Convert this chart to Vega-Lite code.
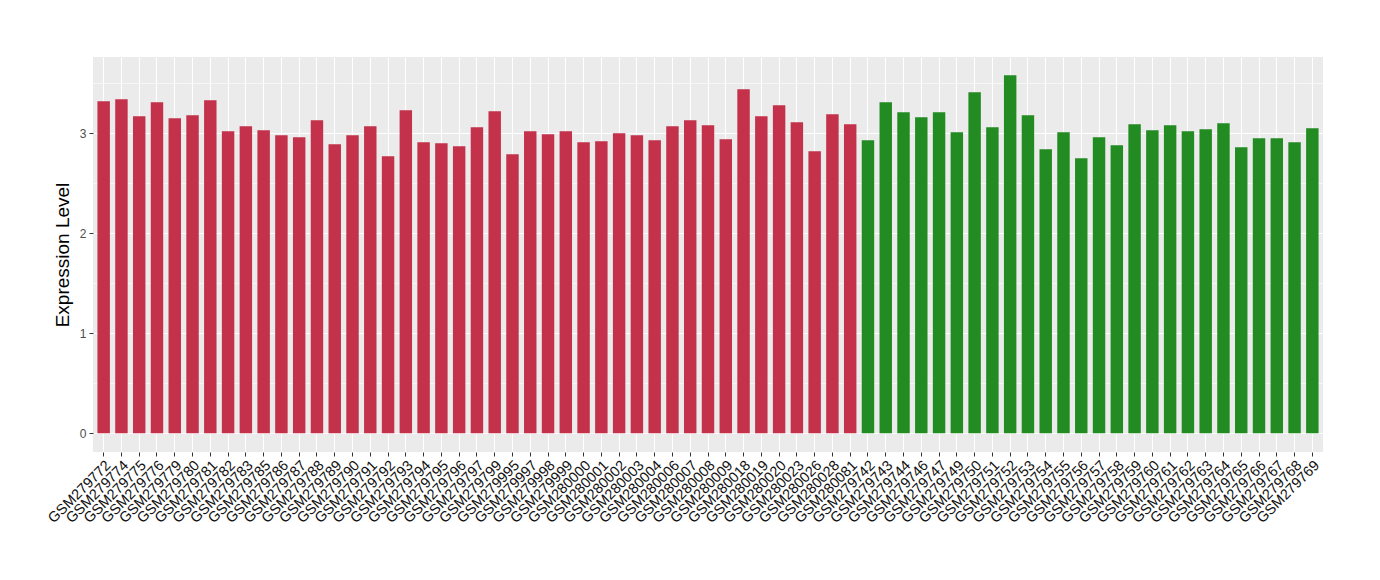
{
  "$schema": "https://vega.github.io/schema/vega-lite/v6.json",
  "autosize": {"type": "none"},
  "width": 1230,
  "height": 395,
  "padding": {"left": 93, "top": 57, "right": 57, "bottom": 128},
  "background": "white",
  "config": {
    "font": "Liberation Sans",
    "view": {"fill": "#EBEBEB", "stroke": null}
  },
  "data": {"values": [
    {"sample": "GSM279772", "group": "A", "value": 3.32},
    {"sample": "GSM279774", "group": "A", "value": 3.34},
    {"sample": "GSM279775", "group": "A", "value": 3.17},
    {"sample": "GSM279776", "group": "A", "value": 3.31},
    {"sample": "GSM279779", "group": "A", "value": 3.15},
    {"sample": "GSM279780", "group": "A", "value": 3.18},
    {"sample": "GSM279781", "group": "A", "value": 3.33},
    {"sample": "GSM279782", "group": "A", "value": 3.02},
    {"sample": "GSM279783", "group": "A", "value": 3.07},
    {"sample": "GSM279785", "group": "A", "value": 3.03},
    {"sample": "GSM279786", "group": "A", "value": 2.98},
    {"sample": "GSM279787", "group": "A", "value": 2.96},
    {"sample": "GSM279788", "group": "A", "value": 3.13},
    {"sample": "GSM279789", "group": "A", "value": 2.89},
    {"sample": "GSM279790", "group": "A", "value": 2.98},
    {"sample": "GSM279791", "group": "A", "value": 3.07},
    {"sample": "GSM279792", "group": "A", "value": 2.77},
    {"sample": "GSM279793", "group": "A", "value": 3.23},
    {"sample": "GSM279794", "group": "A", "value": 2.91},
    {"sample": "GSM279795", "group": "A", "value": 2.90},
    {"sample": "GSM279796", "group": "A", "value": 2.87},
    {"sample": "GSM279797", "group": "A", "value": 3.06},
    {"sample": "GSM279799", "group": "A", "value": 3.22},
    {"sample": "GSM279995", "group": "A", "value": 2.79},
    {"sample": "GSM279997", "group": "A", "value": 3.02},
    {"sample": "GSM279998", "group": "A", "value": 2.99},
    {"sample": "GSM279999", "group": "A", "value": 3.02},
    {"sample": "GSM280000", "group": "A", "value": 2.91},
    {"sample": "GSM280001", "group": "A", "value": 2.92},
    {"sample": "GSM280002", "group": "A", "value": 3.00},
    {"sample": "GSM280003", "group": "A", "value": 2.98},
    {"sample": "GSM280004", "group": "A", "value": 2.93},
    {"sample": "GSM280006", "group": "A", "value": 3.07},
    {"sample": "GSM280007", "group": "A", "value": 3.13},
    {"sample": "GSM280008", "group": "A", "value": 3.08},
    {"sample": "GSM280009", "group": "A", "value": 2.94},
    {"sample": "GSM280018", "group": "A", "value": 3.44},
    {"sample": "GSM280019", "group": "A", "value": 3.17},
    {"sample": "GSM280020", "group": "A", "value": 3.28},
    {"sample": "GSM280023", "group": "A", "value": 3.11},
    {"sample": "GSM280026", "group": "A", "value": 2.82},
    {"sample": "GSM280028", "group": "A", "value": 3.19},
    {"sample": "GSM280081", "group": "A", "value": 3.09},
    {"sample": "GSM279742", "group": "B", "value": 2.93},
    {"sample": "GSM279743", "group": "B", "value": 3.31},
    {"sample": "GSM279744", "group": "B", "value": 3.21},
    {"sample": "GSM279746", "group": "B", "value": 3.16},
    {"sample": "GSM279747", "group": "B", "value": 3.21},
    {"sample": "GSM279749", "group": "B", "value": 3.01},
    {"sample": "GSM279750", "group": "B", "value": 3.41},
    {"sample": "GSM279751", "group": "B", "value": 3.06},
    {"sample": "GSM279752", "group": "B", "value": 3.58},
    {"sample": "GSM279753", "group": "B", "value": 3.18},
    {"sample": "GSM279754", "group": "B", "value": 2.84},
    {"sample": "GSM279755", "group": "B", "value": 3.01},
    {"sample": "GSM279756", "group": "B", "value": 2.75},
    {"sample": "GSM279757", "group": "B", "value": 2.96},
    {"sample": "GSM279758", "group": "B", "value": 2.88},
    {"sample": "GSM279759", "group": "B", "value": 3.09},
    {"sample": "GSM279760", "group": "B", "value": 3.03},
    {"sample": "GSM279761", "group": "B", "value": 3.08},
    {"sample": "GSM279762", "group": "B", "value": 3.02},
    {"sample": "GSM279763", "group": "B", "value": 3.04},
    {"sample": "GSM279764", "group": "B", "value": 3.10},
    {"sample": "GSM279765", "group": "B", "value": 2.86},
    {"sample": "GSM279766", "group": "B", "value": 2.95},
    {"sample": "GSM279767", "group": "B", "value": 2.95},
    {"sample": "GSM279768", "group": "B", "value": 2.91},
    {"sample": "GSM279769", "group": "B", "value": 3.05}
  ]},
  "encoding": {
    "x": {
      "field": "sample", "type": "nominal", "sort": null,
      "scale": {"paddingInner": 0.3, "paddingOuter": 0.25},
      "axis": {
        "title": null, "labelAngle": -45, "labelAlign": "right", "labelBaseline": "top",
        "labelFontSize": 14.5, "labelColor": "#111111", "labelPadding": 2, "labelDx": 6,
        "tickColor": "#333333", "tickSize": 4, "domain": false,
        "grid": true, "gridColor": "white", "gridWidth": 1.1,
        "labelOverlap": false, "labelBound": false, "labelFlush": false
      }
    },
    "y": {
      "field": "value", "type": "quantitative",
      "scale": {"domain": [-0.187, 3.763], "nice": false, "zero": false}
    }
  },
  "layer": [
    {
      "mark": {"type": "bar", "opacity": 0},
      "encoding": {
        "y": {
          "field": "value", "type": "quantitative",
          "axis": {
            "orient": "left", "values": [0.5, 1.5, 2.5, 3.5], "grid": true,
            "gridColor": "white", "gridWidth": 0.55, "labels": false, "ticks": false,
            "domain": false, "title": null
          }
        }
      }
    },
    {
      "mark": {"type": "bar"},
      "encoding": {
        "y": {
          "field": "value", "type": "quantitative",
          "axis": {
            "orient": "left", "values": [0, 1, 2, 3], "grid": true,
            "gridColor": "white", "gridWidth": 1.1, "domain": false,
            "labelFontSize": 12, "labelColor": "#4d4d4d", "labelPadding": 3,
            "tickColor": "#333333", "tickSize": 4,
            "title": "Expression Level", "titleFontSize": 19, "titleFontWeight": "normal",
            "titleColor": "black", "titlePadding": 7
          }
        },
        "color": {
          "field": "group", "type": "nominal", "legend": null,
          "scale": {"domain": ["A", "B"], "range": ["#C3314A", "#228B22"]}
        }
      }
    }
  ],
  "resolve": {"axis": {"y": "independent"}}
}
